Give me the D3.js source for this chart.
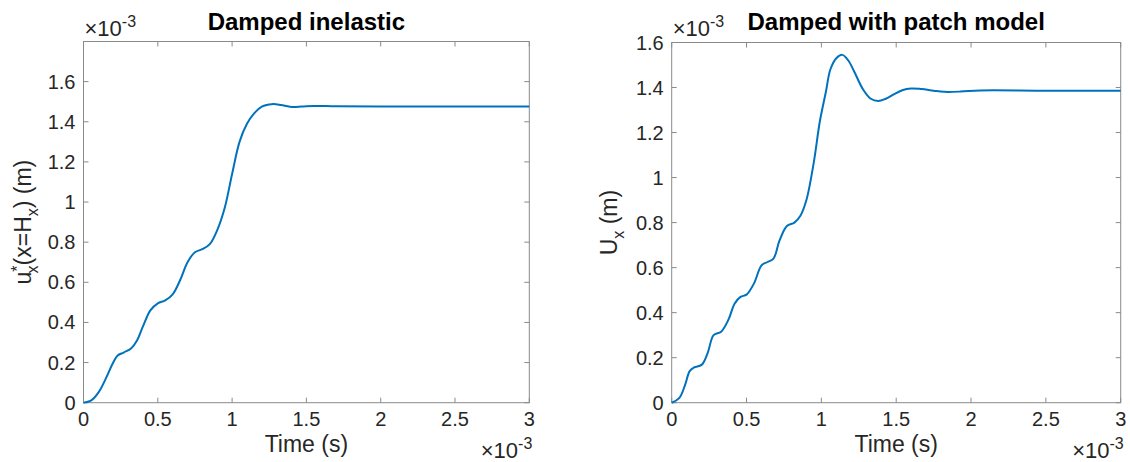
<!DOCTYPE html>
<html>
<head>
<meta charset="utf-8" />
<title>Damped responses</title>
<script src="https://cdnjs.cloudflare.com/ajax/libs/d3/7.8.5/d3.min.js"></script>
<style>
  body { margin: 0; background: #fff; }
  svg text { font-family: "Liberation Sans", Arial, Helvetica, sans-serif; fill: #262626; }
</style>
</head>
<body>
<div id="chart"></div>
<script>
// time in units of 1e-3 s, displacement in units of 1e-3 m
var timeLeft = [0, 0.05, 0.1, 0.15, 0.2, 0.23, 0.27, 0.32, 0.36, 0.4, 0.45, 0.5, 0.55, 0.6, 0.65, 0.7, 0.75, 0.8, 0.85, 0.9, 0.95, 1.0, 1.05, 1.1, 1.15, 1.2, 1.25, 1.28, 1.33, 1.4, 1.47, 1.55, 1.7, 2.0, 2.5, 3.0];
var dispLeft = [0, 0.01, 0.05, 0.12, 0.2, 0.235, 0.25, 0.27, 0.31, 0.38, 0.46, 0.495, 0.51, 0.54, 0.61, 0.7, 0.75, 0.765, 0.79, 0.86, 0.97, 1.14, 1.3, 1.39, 1.443, 1.475, 1.486, 1.488, 1.483, 1.474, 1.476, 1.479, 1.477, 1.476, 1.476, 1.476];

var timeRight = [0, 0.05, 0.09, 0.12, 0.15, 0.2, 0.24, 0.28, 0.33, 0.38, 0.42, 0.46, 0.5, 0.55, 0.6, 0.64, 0.68, 0.72, 0.77, 0.82, 0.86, 0.9, 0.95, 0.99, 1.03, 1.06, 1.1, 1.14, 1.18, 1.22, 1.28, 1.33, 1.38, 1.43, 1.48, 1.54, 1.6, 1.67, 1.75, 1.82, 1.93, 2.06, 2.5, 3.0];
var dispRight = [0, 0.02, 0.08, 0.14, 0.157, 0.168, 0.22, 0.3, 0.315, 0.37, 0.44, 0.47, 0.48, 0.53, 0.61, 0.625, 0.64, 0.72, 0.785, 0.8, 0.83, 0.9, 1.07, 1.25, 1.38, 1.48, 1.53, 1.545, 1.52, 1.47, 1.39, 1.35, 1.34, 1.35, 1.368, 1.388, 1.396, 1.393, 1.386, 1.381, 1.382, 1.387, 1.386, 1.386];

var xTicks = [0, 0.5, 1, 1.5, 2, 2.5, 3];
var yTicksLeft = [0, 0.2, 0.4, 0.6, 0.8, 1, 1.2, 1.4, 1.6];
var yTicksRight = [0, 0.2, 0.4, 0.6, 0.8, 1, 1.2, 1.4, 1.6];

var svg = d3.select("#chart").append("svg")
  .attr("width", 1130)
  .attr("height", 462);

var panels = [
  { title: "Damped inelastic", t: timeLeft, u: dispLeft, yTicks: yTicksLeft, yMax: 1.8,
    left: 83.5, right: 529.3, top: 41.5, bottom: 402.7, label: "left" },
  { title: "Damped with patch model", t: timeRight, u: dispRight, yTicks: yTicksRight, yMax: 1.6,
    left: 671.7, right: 1120.7, top: 42.5, bottom: 402.7, label: "right" }
];

var tickLen = 5;
var boxColor = "#8a8a8a";

panels.forEach(function (p) {
  var x = d3.scaleLinear().domain([0, 3]).range([p.left, p.right]);
  var y = d3.scaleLinear().domain([0, p.yMax]).range([p.bottom, p.top]);
  var g = svg.append("g");

  // box
  g.append("rect")
    .attr("x", p.left).attr("y", p.top)
    .attr("width", p.right - p.left).attr("height", p.bottom - p.top)
    .attr("fill", "none").attr("stroke", boxColor).attr("stroke-width", 1);

  // ticks, inward on all four sides
  xTicks.forEach(function (v) {
    g.append("line").attr("x1", x(v)).attr("x2", x(v))
      .attr("y1", p.bottom).attr("y2", p.bottom - tickLen).attr("stroke", boxColor);
    g.append("line").attr("x1", x(v)).attr("x2", x(v))
      .attr("y1", p.top).attr("y2", p.top + tickLen).attr("stroke", boxColor);
    g.append("text").attr("x", x(v)).attr("y", 426)
      .attr("text-anchor", "middle").attr("font-size", "20px").text(v);
  });
  p.yTicks.forEach(function (v) {
    g.append("line").attr("x1", p.left).attr("x2", p.left + tickLen)
      .attr("y1", y(v)).attr("y2", y(v)).attr("stroke", boxColor);
    g.append("line").attr("x1", p.right).attr("x2", p.right - tickLen)
      .attr("y1", y(v)).attr("y2", y(v)).attr("stroke", boxColor);
    g.append("text").attr("x", p.left - 8).attr("y", y(v)).attr("dy", "0.35em")
      .attr("text-anchor", "end").attr("font-size", "20px").text(v);
  });

  // curve
  var line = d3.line()
    .x(function (d) { return x(d[0]); })
    .y(function (d) { return y(d[1]); })
    .curve(d3.curveCatmullRom.alpha(0.5));
  g.append("path")
    .datum(d3.zip(p.t, p.u))
    .attr("d", line)
    .attr("fill", "none")
    .attr("stroke", "#0072BD")
    .attr("stroke-width", 2);

  // title
  g.append("text").attr("x", (p.left + p.right) / 2).attr("y", 30)
    .attr("text-anchor", "middle").attr("font-size", "24px").attr("font-weight", "bold")
    .style("fill", "#000").text(p.title);

  // x label
  g.append("text").attr("x", (p.left + p.right) / 2).attr("y", 452)
    .attr("text-anchor", "middle").attr("font-size", "23px").text("Time (s)");

  // exponent labels
  var topExp = g.append("text").attr("x", p.left + 1).attr("y", 36).attr("font-size", "22px");
  topExp.append("tspan").text("\u00d710");
  topExp.append("tspan").attr("dy", -9).attr("font-size", "16px").text("-3");

  var botExp = g.append("text").attr("x", p.right + 3).attr("y", 458)
    .attr("text-anchor", "end").attr("font-size", "22px");
  botExp.append("tspan").text("\u00d710");
  botExp.append("tspan").attr("dy", -9).attr("font-size", "16px").text("-3");

  // y label
  var cy = (p.top + p.bottom) / 2;
  if (p.label == "left") {
    var yl = g.append("text")
      .attr("transform", "translate(" + (p.left - 52.5) + "," + cy + ") rotate(-90)")
      .attr("text-anchor", "middle").attr("font-size", "23px");
    yl.append("tspan").text("u");
    yl.append("tspan").attr("dy", -8).attr("font-size", "16px").text("*");
    yl.append("tspan").attr("dx", -8).attr("dy", 15).attr("font-size", "16px").text("x");
    yl.append("tspan").attr("dy", -7).text("(x=H");
    yl.append("tspan").attr("dy", 7).attr("font-size", "16px").text("x");
    yl.append("tspan").attr("dy", -7).text(") (m)");
  } else {
    var yr = g.append("text")
      .attr("transform", "translate(" + (p.left - 54.5) + "," + cy + ") rotate(-90)")
      .attr("text-anchor", "middle").attr("font-size", "23px");
    yr.append("tspan").text("U");
    yr.append("tspan").attr("dy", 7).attr("font-size", "16px").text("x");
    yr.append("tspan").attr("dy", -7).text(" (m)");
  }
});
</script>
</body>
</html>
